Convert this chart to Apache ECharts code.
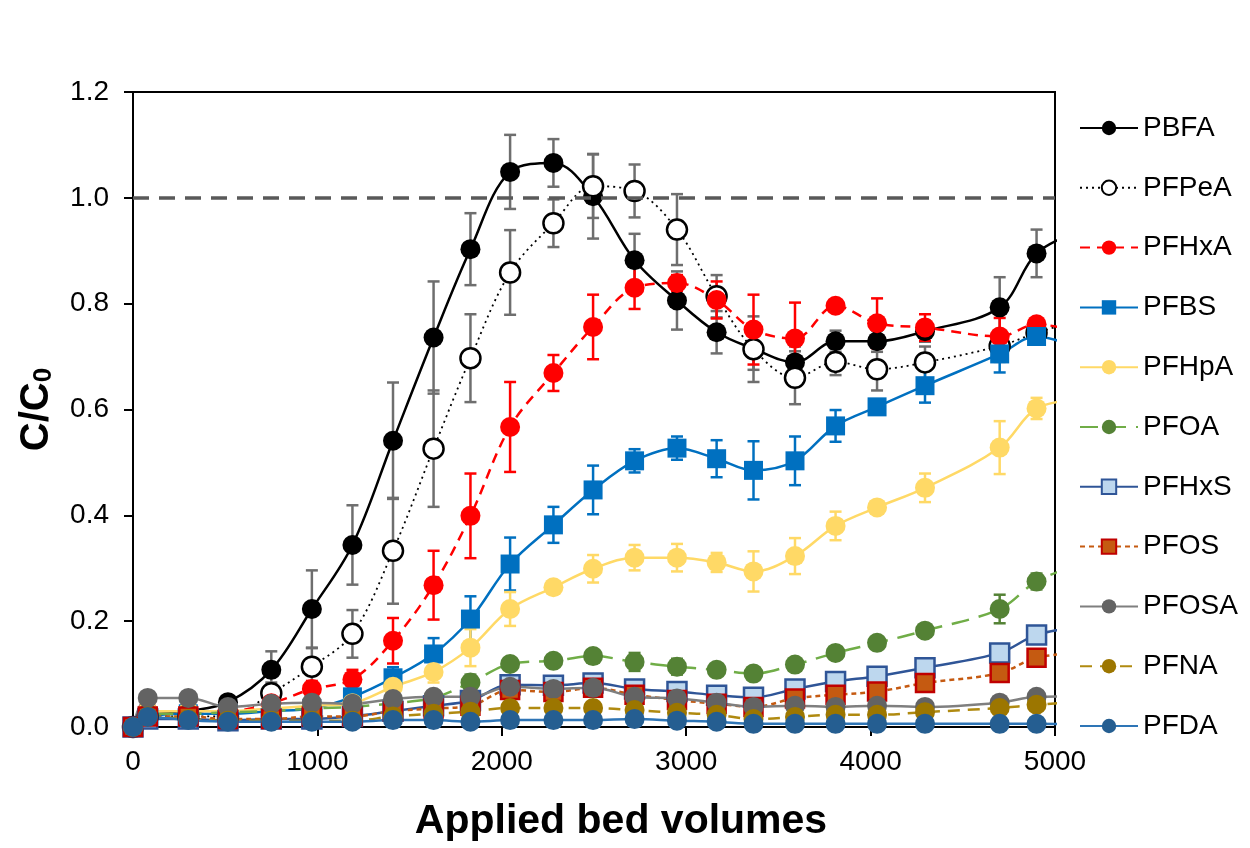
<!DOCTYPE html>
<html>
<head>
<meta charset="utf-8">
<script src="https://cdn.jsdelivr.net/npm/echarts@6/dist/echarts.min.js"></script>
<style>
  html, body { margin: 0; padding: 0; background: #fff; }
  #chart { width: 1250px; height: 848px; }
</style>
</head>
<body>
<div id="chart"></div>
<script>
// applied bed volumes (last point sits past the axis end, the line is clipped there)
const bedVolumes = [0, 80, 300, 515, 750, 970, 1190, 1410, 1630, 1830, 2045, 2280, 2495, 2720, 2950, 3165, 3365, 3590, 3810, 4035, 4295, 4700, 4900, 5150];

const PBFA  = [0, 0.02, 0.03, 0.047, 0.108, 0.223, 0.344, 0.541, 0.736, 0.903, 1.049, 1.066, 1.003, 0.882, 0.806, 0.746, 0.715, 0.689, 0.729, 0.729, 0.748, 0.793, 0.895, 0.94];
const PFPeA = [0, 0.02, 0.02, 0.02, 0.064, 0.114, 0.176, 0.333, 0.526, 0.697, 0.859, 0.952, 1.022, 1.013, 0.94, 0.814, 0.714, 0.66, 0.69, 0.676, 0.689, 0.72, 0.745, 0.77];
const PFHxA = [0, 0.03, 0.03, 0.03, 0.045, 0.072, 0.09, 0.163, 0.268, 0.399, 0.567, 0.669, 0.756, 0.83, 0.839, 0.807, 0.751, 0.734, 0.796, 0.763, 0.755, 0.738, 0.761, 0.745];
const PFBS  = [0, 0.02, 0.025, 0.025, 0.03, 0.035, 0.057, 0.093, 0.138, 0.204, 0.308, 0.382, 0.448, 0.503, 0.527, 0.507, 0.485, 0.503, 0.569, 0.605, 0.645, 0.705, 0.738, 0.713];
const PFHpA = [0, 0.03, 0.03, 0.03, 0.035, 0.04, 0.045, 0.076, 0.104, 0.15, 0.223, 0.264, 0.299, 0.32, 0.32, 0.311, 0.294, 0.323, 0.38, 0.415, 0.452, 0.528, 0.602, 0.62];
const PFOA  = [0, 0.025, 0.025, 0.028, 0.03, 0.035, 0.038, 0.045, 0.055, 0.084, 0.119, 0.125, 0.134, 0.123, 0.114, 0.108, 0.101, 0.118, 0.14, 0.159, 0.182, 0.223, 0.275, 0.31];
const PFHxS = [0, 0.015, 0.015, 0.012, 0.015, 0.015, 0.02, 0.03, 0.04, 0.05, 0.08, 0.079, 0.083, 0.072, 0.067, 0.06, 0.056, 0.072, 0.086, 0.096, 0.112, 0.14, 0.174, 0.19];
const PFOS  = [0, 0.02, 0.02, 0.015, 0.015, 0.02, 0.02, 0.03, 0.035, 0.04, 0.07, 0.066, 0.074, 0.061, 0.051, 0.044, 0.038, 0.054, 0.061, 0.067, 0.083, 0.102, 0.131, 0.14];
const PFOSA = [0, 0.055, 0.055, 0.038, 0.044, 0.046, 0.044, 0.053, 0.057, 0.057, 0.076, 0.072, 0.074, 0.057, 0.054, 0.046, 0.038, 0.04, 0.038, 0.04, 0.038, 0.046, 0.057, 0.058];
const PFNA  = [0, 0.02, 0.015, 0.012, 0.012, 0.012, 0.012, 0.02, 0.025, 0.029, 0.036, 0.036, 0.036, 0.032, 0.027, 0.023, 0.015, 0.019, 0.023, 0.023, 0.028, 0.036, 0.042, 0.048];
const PFDA  = [0, 0.019, 0.013, 0.01, 0.01, 0.01, 0.01, 0.013, 0.013, 0.01, 0.013, 0.013, 0.013, 0.015, 0.012, 0.01, 0.006, 0.006, 0.006, 0.006, 0.006, 0.006, 0.006, 0.005];

// +/- error bars (0 = none drawn)
const errPBFA  = [0, 0, 0, 0.01, 0.035, 0.073, 0.075, 0.11, 0.106, 0.068, 0.07, 0.045, 0.08, 0.05, 0.055, 0.04, 0.04, 0.03, 0.02, 0.02, 0.02, 0.057, 0.045, 0];
const errPFPeA = [0, 0, 0, 0, 0.02, 0.035, 0.045, 0.1, 0.11, 0.083, 0.08, 0.045, 0.06, 0.05, 0.067, 0.04, 0.062, 0.05, 0.025, 0.04, 0.03, 0.03, 0.02, 0];
const errPFHxA = [0, 0, 0, 0, 0.005, 0.015, 0.018, 0.043, 0.065, 0.08, 0.085, 0.034, 0.061, 0.04, 0.015, 0.035, 0.066, 0.068, 0.01, 0.047, 0.025, 0.035, 0.01, 0];
const errPFBS  = [0, 0, 0, 0, 0, 0.005, 0.01, 0.02, 0.03, 0.043, 0.05, 0.034, 0.046, 0.022, 0.022, 0.035, 0.055, 0.046, 0.03, 0.01, 0.032, 0.035, 0.01, 0];
const errPFHpA = [0, 0, 0, 0, 0, 0, 0, 0.01, 0.02, 0.035, 0.032, 0.01, 0.026, 0.024, 0.026, 0.018, 0.038, 0.034, 0.027, 0.01, 0.027, 0.05, 0.02, 0];
const errPFOA  = [0, 0, 0, 0, 0, 0, 0, 0, 0.01, 0.015, 0.01, 0.005, 0.005, 0.017, 0.015, 0.005, 0.012, 0.01, 0.005, 0.005, 0.01, 0.027, 0.015, 0];

const yTicks = [0, 0.2, 0.4, 0.6, 0.8, 1.0, 1.2];
const xTicks = [0, 1000, 2000, 3000, 4000, 5000];

const FONT = 'Liberation Sans, Arial, sans-serif';

const chart = echarts.init(document.getElementById('chart'));

// 1. line series, one per compound
const lineSeries = (name, data, o) => ({
  name: name,
  type: 'line',
  data: bedVolumes.map((x, i) => [x, data[i]]),
  smooth: 0.35,
  symbol: o.symbol || 'circle',
  symbolSize: o.size || 20,
  clip: true,
  z: 3,
  itemStyle: { color: o.fill, borderColor: o.border || o.fill, borderWidth: o.bw || 0, opacity: 1 },
  lineStyle: { color: o.line, width: o.width || 2, type: o.dash || 'solid' },
  emphasis: { disabled: true }
});

// 2. error bars drawn through a custom series
const errSeries = (name, data, err, color) => ({
  name: name + ' err',
  type: 'custom',
  z: 2,
  silent: true,
  clip: true,
  data: bedVolumes.map((x, i) => [x, data[i], err[i]]).filter(d => d[2] > 0 && d[0] <= 5000),
  encode: { x: 0, y: 1 },
  renderItem: (params, api) => {
    const x = api.value(0), y = api.value(1), e = api.value(2);
    const top = api.coord([x, y + e]);
    const bot = api.coord([x, y - e]);
    const st = { stroke: color, lineWidth: 2.5 };
    return {
      type: 'group',
      children: [
        { type: 'line', shape: { x1: top[0], y1: top[1], x2: bot[0], y2: bot[1] }, style: st },
        { type: 'line', shape: { x1: top[0] - 6, y1: top[1], x2: top[0] + 6, y2: top[1] }, style: st },
        { type: 'line', shape: { x1: bot[0] - 6, y1: bot[1], x2: bot[0] + 6, y2: bot[1] }, style: st }
      ]
    };
  }
});

const names = ['PBFA', 'PFPeA', 'PFHxA', 'PFBS', 'PFHpA', 'PFOA', 'PFHxS', 'PFOS', 'PFOSA', 'PFNA', 'PFDA'];

const options = {
  animation: false,
  backgroundColor: '#fff',
  grid: {
    left: 133, right: 195, top: 92, bottom: 121,
    outerBoundsMode: 'none',
    containLabel: false,
    show: true, borderColor: '#000', borderWidth: 2
  },
  legend: {
    data: names,
    orient: 'vertical',
    left: 1074,
    top: 109,
    itemWidth: 58,
    itemHeight: 18,
    itemGap: 31.8,
    selectedMode: false,
    textStyle: { fontFamily: FONT, fontSize: 28, color: '#000', lineHeight: 27 }
  },
  xAxis: {
    type: 'value',
    min: 0, max: 5000, interval: 1000,
    name: 'Applied bed volumes',
    nameLocation: 'middle',
    nameGap: 74,
    nameTextStyle: { fontFamily: FONT, fontSize: 41, fontWeight: 'bold', color: '#000', padding: [0, 0, 0, 54] },
    axisLine: { onZero: false, lineStyle: { color: '#000', width: 2 } },
    axisTick: { show: true, inside: false, length: 9, lineStyle: { color: '#000', width: 2 } },
    axisLabel: { fontFamily: FONT, fontSize: 28, color: '#000', margin: 21,
      formatter: v => xTicks.includes(v) ? String(v) : '' },
    splitLine: { show: false }
  },
  yAxis: {
    type: 'value',
    min: 0, max: 1.2, interval: 0.2,
    name: '{c|C/C}{s|0}',
    nameLocation: 'middle',
    nameRotate: 90,
    nameGap: 76,
    nameTextStyle: {
      rich: {
        c: { fontFamily: FONT, fontSize: 40, fontWeight: 'bold', color: '#000' },
        s: { fontFamily: FONT, fontSize: 26, fontWeight: 'bold', color: '#000', verticalAlign: 'bottom', padding: [15, 0, 0, 0] }
      }
    },
    axisLine: { lineStyle: { color: '#000', width: 2 } },
    axisTick: { show: true, length: 9, lineStyle: { color: '#000', width: 2 } },
    axisLabel: { fontFamily: FONT, fontSize: 28, color: '#000', margin: 24,
      formatter: v => yTicks.some(t => Math.abs(t - v) < 1e-9) ? v.toFixed(1) : '' },
    splitLine: { show: false }
  },
  // drawn in legend order: later series sit on top, as in the original
  series: [
    errSeries('PBFA', PBFA, errPBFA, '#6e6e6e'),
    errSeries('PFPeA', PFPeA, errPFPeA, '#6e6e6e'),
    errSeries('PFHxA', PFHxA, errPFHxA, '#ff0000'),
    errSeries('PFBS', PFBS, errPFBS, '#0070c0'),
    errSeries('PFHpA', PFHpA, errPFHpA, '#ffd966'),
    errSeries('PFOA', PFOA, errPFOA, '#548235'),
    Object.assign(lineSeries('PBFA', PBFA, { fill: '#000', line: '#000', width: 2.5 }), {
      markLine: {
        silent: true,
        symbol: 'none',
        label: { show: false },
        lineStyle: { color: '#595959', width: 3.5, type: [16, 10] },
        data: [{ yAxis: 1.0 }]
      }
    }),
    lineSeries('PFPeA', PFPeA, { fill: '#ffffff', border: '#000', bw: 2.5, line: '#000', width: 1.8, dash: [2, 4] }),
    lineSeries('PFHxA', PFHxA, { fill: '#ff0000', line: '#ff0000', width: 2.5, dash: [10, 7] }),
    lineSeries('PFBS', PFBS, { symbol: 'rect', size: 19, fill: '#0070c0', line: '#0070c0', width: 2.5 }),
    lineSeries('PFHpA', PFHpA, { fill: '#ffd966', line: '#ffd966', width: 2.5 }),
    lineSeries('PFOA', PFOA, { fill: '#548235', line: '#70ad47', width: 2.5, dash: [18, 10] }),
    lineSeries('PFHxS', PFHxS, { symbol: 'rect', size: 19, fill: '#bdd7ee', border: '#2f5597', bw: 2.5, line: '#2f5597', width: 2.5 }),
    lineSeries('PFOS', PFOS, { symbol: 'rect', size: 18, fill: '#c55a11', border: '#c00000', bw: 2.5, line: '#c55a11', width: 2.5, dash: [5, 4] }),
    lineSeries('PFOSA', PFOSA, { fill: '#636363', line: '#7f7f7f', width: 2.5 }),
    lineSeries('PFNA', PFNA, { fill: '#9c7600', line: '#b08a10', width: 2.5, dash: [12, 8] }),
    lineSeries('PFDA', PFDA, { fill: '#255e91', line: '#2e75b6', width: 2.5 })
  ]
};

chart.setOption(options);
</script>
</body>
</html>
